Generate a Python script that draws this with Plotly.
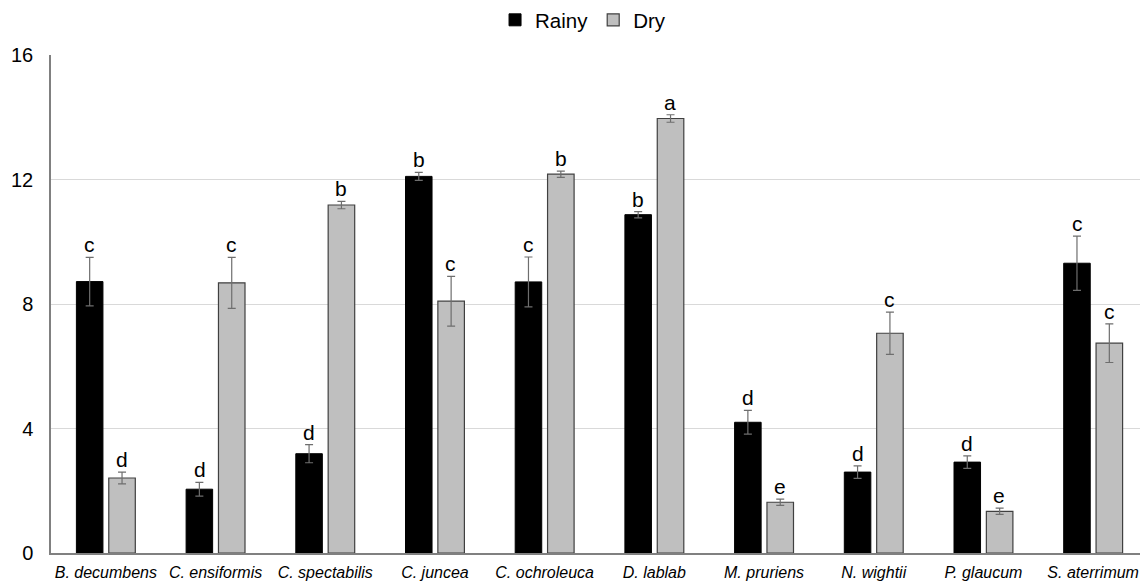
import plotly.graph_objects as go

categories = ["B. decumbens", "C. ensiformis", "C. spectabilis", "C. juncea", "C. ochroleuca",
              "D. lablab", "M. pruriens", "N. wightii", "P. glaucum", "S. aterrimum"]
rainy = [8.72, 2.05, 3.19, 12.10, 8.71, 10.87, 4.20, 2.60, 2.92, 9.31]
rainy_err = [0.78, 0.22, 0.29, 0.13, 0.80, 0.10, 0.38, 0.20, 0.20, 0.87]
rainy_letters = ["c", "d", "d", "b", "c", "b", "d", "d", "d", "c"]
dry = [2.41, 8.68, 11.18, 8.09, 12.17, 13.96, 1.63, 7.06, 1.34, 6.74]
dry_err = [0.19, 0.82, 0.12, 0.80, 0.10, 0.12, 0.10, 0.68, 0.10, 0.62]
dry_letters = ["d", "c", "b", "c", "b", "a", "e", "c", "e", "c"]

font_family = "Liberation Sans, Arial, sans-serif"

fig = go.Figure()
fig.add_trace(go.Bar(
    name="Rainy", x=categories, y=rainy,
    marker=dict(color="#000000", line=dict(color="#000000", width=1)),
    error_y=dict(type="data", array=rainy_err, color="#6e6e6e", thickness=1.2, width=4),
))
fig.add_trace(go.Bar(
    name="Dry", x=categories, y=dry,
    marker=dict(color="#bfbfbf", line=dict(color="#404040", width=1.2)),
    error_y=dict(type="data", array=dry_err, color="#6e6e6e", thickness=1.2, width=4),
))

annotations = []
for i, c in enumerate(categories):
    annotations.append(dict(x=c, y=rainy[i] + rainy_err[i], text=rainy_letters[i], xref="x", yref="y",
                            xshift=-16, yshift=-1, yanchor="bottom", showarrow=False,
                            font=dict(size=21, color="#000000", family=font_family)))
    annotations.append(dict(x=c, y=dry[i] + dry_err[i], text=dry_letters[i], xref="x", yref="y",
                            xshift=16, yshift=-1, yanchor="bottom", showarrow=False,
                            font=dict(size=21, color="#000000", family=font_family)))

fig.update_layout(
    width=1148, height=581,
    margin=dict(l=51, r=0, t=55, b=28, autoexpand=False),
    paper_bgcolor="white", plot_bgcolor="white",
    barmode="group", bargap=0.41, bargroupgap=0.18,
    font=dict(family=font_family, color="#000000"),
    showlegend=True,
    legend=dict(orientation="h", x=0.485, xanchor="center", yref="container", y=1.0, yanchor="top",
                font=dict(size=20.5, family=font_family), itemwidth=30, tracegroupgap=0,
                bgcolor="rgba(0,0,0,0)"),
    annotations=annotations,
)
fig.update_yaxes(range=[0, 16], tickvals=[0, 4, 8, 12, 16], showgrid=True, gridcolor="#d9d9d9",
                 gridwidth=1, showline=True, linecolor="#808080", linewidth=1.5, zeroline=False,
                 ticks="", tickfont=dict(size=20, family=font_family), ticklabelstandoff=12)
fig.update_xaxes(showline=True, linecolor="#808080", linewidth=1.5, ticks="",
                 tickfont=dict(size=16, family=font_family), tickangle=0, ticklabelstandoff=4)
fig.update_xaxes(ticktext=["<i>%s</i>" % c for c in categories], tickvals=categories)

fig.write_html("out.html", config={"displayModeBar": False},
               post_script="document.body.style.margin='0';document.body.style.overflow='hidden';")
